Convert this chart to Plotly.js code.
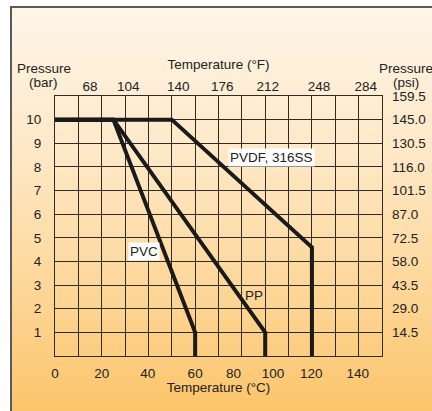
<!DOCTYPE html>
<html>
<head>
<meta charset="utf-8">
<script src="https://cdn.plot.ly/plotly-3.0.1.min.js"></script>
<style>
  html, body { margin:0; padding:0; background:#ffffff; width:432px; height:411px; overflow:hidden; }
  #bg { position:absolute; left:10px; top:6px; width:440px; height:420px;
        border-left:2px solid #5a5a5a; border-top:2px solid #5a5a5a;
        background: linear-gradient(to bottom, #fef5e8 0%, #fee8c6 35%, #fdd594 70%, #fcc264 100%); }
  #chart { position:absolute; left:0; top:0; width:432px; height:411px; }
</style>
</head>
<body>
<div id="bg"></div>
<div id="chart"></div>
<script>
// ---- data ----
const pvdfTemp = [0, 50, 110, 110];
const pvdfPressure = [10, 10, 4.6, 0];
const ppTemp = [0, 25, 90, 90];
const ppPressure = [10, 10, 1, 0];
const pvcTemp = [0, 25, 60, 60];
const pvcPressure = [10, 10, 1, 0];

const tempCLabels = ['0', '20', '40', '60', '80', '100', '120', '140'];
const tempFLabels = ['68', '104', '140', '176', '212', '248', '284'];
const barTicks = [1, 2, 3, 4, 5, 6, 7, 8, 9, 10];
const psiTicks = [14.5, 29.0, 43.5, 58.0, 72.5, 87.0, 101.5, 116.0, 130.5, 145.0, 159.5];

// tick label placement along the grid (as drawn in the original)
const tempCLabelPlace = [0, 20, 39.7, 60, 76.4, 93.3, 109.7, 129.6];
const tempFLabelPlace = [15.0, 31.4, 52.8, 71.6, 91.1, 113.0, 133.0];

const FONT = 'Liberation Sans, Arial, Helvetica, sans-serif';
const FS = 13.5;
const TXT = '#222222';
const GRID = '#2e2a26';
const LINE = '#1a1a1a';

function lineTrace(x, y, name) {
  return { x: x, y: y, name: name, type: 'scatter', mode: 'lines',
           line: { color: LINE, width: 4 }, hoverinfo: 'skip', showlegend: false };
}
function axisHolder(xa, ya) {
  return { x: [], y: [], xaxis: xa, yaxis: ya, type: 'scatter', mode: 'markers',
           hoverinfo: 'skip', showlegend: false };
}

const data = [
  lineTrace(pvdfTemp, pvdfPressure, 'PVDF, 316SS'),
  lineTrace(ppTemp, ppPressure, 'PP'),
  lineTrace(pvcTemp, pvcPressure, 'PVC'),
  axisHolder('x2', 'y'),
  axisHolder('x3', 'y'),
  axisHolder('x', 'y2')
];

const titleFont = { family: FONT, size: FS, color: TXT };
// paper coordinates for the corner titles
const px = v => (v - 55) / 326.7;
const py = v => (356 - v) / 260.3;

function cornerText(text, x, y) {
  return { text: text, xref: 'paper', yref: 'paper', x: px(x), y: py(y),
           xanchor: 'center', yanchor: 'middle', showarrow: false, font: titleFont };
}

const layout = {
  width: 432, height: 411,
  margin: { l: 55, r: 50.3, t: 95.7, b: 55, pad: 0 },
  paper_bgcolor: 'rgba(0,0,0,0)',
  plot_bgcolor: 'rgba(0,0,0,0)',
  font: { family: FONT, size: FS, color: TXT },
  showlegend: false,
  xaxis: {
    range: [0, 140], dtick: 10, tick0: 0,
    showgrid: true, gridcolor: GRID, gridwidth: 1,
    zeroline: false, showticklabels: false, ticks: '',
    showline: true, linecolor: GRID, linewidth: 1, mirror: true,
    fixedrange: true
  },
  xaxis2: {
    overlaying: 'x', anchor: 'y', side: 'bottom',
    range: [0, 140], tickmode: 'array', tickvals: tempCLabelPlace, ticktext: tempCLabels,
    showgrid: false, zeroline: false, ticks: '', showline: false,
    ticklabelstandoff: 7,
    title: { text: 'Temperature (°C)', font: titleFont, standoff: 3 },
    fixedrange: true
  },
  xaxis3: {
    overlaying: 'x', anchor: 'y', side: 'top',
    range: [0, 140], tickmode: 'array', tickvals: tempFLabelPlace, ticktext: tempFLabels,
    showgrid: false, zeroline: false, ticks: '', showline: false,
    ticklabelstandoff: 1,
    title: { text: 'Temperature (°F)', font: titleFont, standoff: 6 },
    fixedrange: true
  },
  yaxis: {
    range: [0, 11], tickmode: 'array', tickvals: barTicks,
    showgrid: true, gridcolor: GRID, gridwidth: 1,
    zeroline: false, ticks: '', ticklabelstandoff: 10,
    showline: true, linecolor: GRID, linewidth: 1, mirror: true,
    fixedrange: true
  },
  yaxis2: {
    overlaying: 'y', anchor: 'x', side: 'right',
    range: [0, 159.5], tickmode: 'array', tickvals: psiTicks,
    ticktext: psiTicks.map(v => v.toFixed(1)),
    showgrid: false, zeroline: false, ticks: '', showline: false,
    ticklabelstandoff: 9,
    fixedrange: true
  },
  annotations: [
    cornerText('Pressure', 44, 68),
    cornerText('(bar)', 44, 82),
    cornerText('Pressure', 406, 68),
    cornerText('(psi)', 406, 82),
    { text: 'PVDF, 316SS', x: 92.6, y: 8.41, xref: 'x', yref: 'y', showarrow: false,
      bgcolor: '#ffffff', borderpad: 1, font: titleFont },
    { text: 'PVC', x: 37.9, y: 4.44, xref: 'x', yref: 'y', showarrow: false,
      bgcolor: '#ffffff', borderpad: 1, font: titleFont },
    { text: 'PP', x: 85.3, y: 2.58, xref: 'x', yref: 'y', showarrow: false,
      font: titleFont }
  ]
};

Plotly.newPlot('chart', data, layout, { staticPlot: true, displayModeBar: false });
</script>
</body>
</html>
